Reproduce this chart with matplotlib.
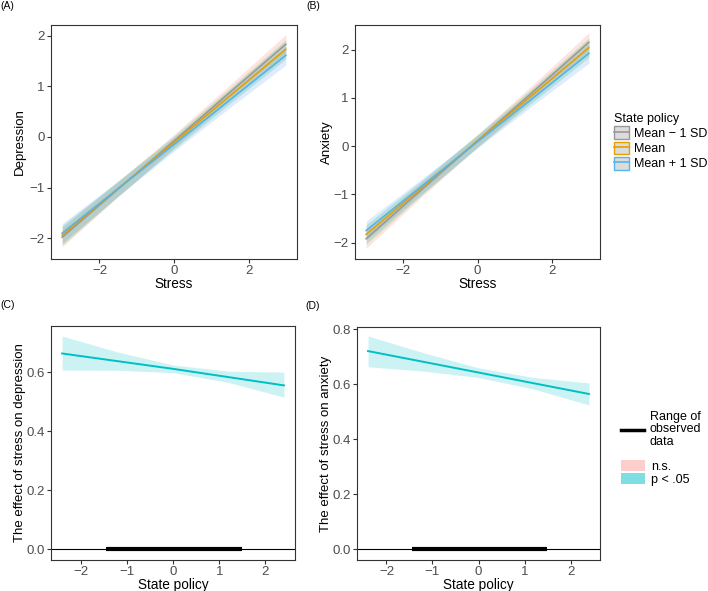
import matplotlib
matplotlib.use("Agg")
import matplotlib.pyplot as plt
from matplotlib.patches import Patch
from matplotlib.lines import Line2D

plt.rcParams['font.family'] = ['Liberation Sans', 'DejaVu Sans']

# panels A/B: predicted outcome across stress at three state-policy levels
stress = [-3.0, -1.5, 0.0, 1.5, 3.0]
policy_levels = ['Mean \u2212 1 SD', 'Mean', 'Mean + 1 SD']

dep_low = [-1.98, -1.03, -0.08, 0.88, 1.83]
dep_mid = [-1.94, -1.02, -0.11, 0.81, 1.73]
dep_high = [-1.90, -1.02, -0.15, 0.73, 1.61]
dep_ci = [0.19, 0.15, 0.13, 0.15, 0.19]

anx_low = [-1.92, -0.90, 0.11, 1.13, 2.15]
anx_mid = [-1.83, -0.86, 0.11, 1.07, 2.04]
anx_high = [-1.75, -0.83, 0.09, 1.00, 1.92]
anx_ci = [0.20, 0.15, 0.13, 0.15, 0.20]

# panels C/D: effect of stress across state policy (Johnson-Neyman)
policy = [-2.4, -1.2, 0.0, 1.2, 2.4]
dep_effect = [0.663, 0.637, 0.611, 0.583, 0.555]
dep_lower = [0.607, 0.606, 0.598, 0.565, 0.515]
dep_upper = [0.722, 0.668, 0.624, 0.603, 0.600]
anx_effect = [0.721, 0.682, 0.643, 0.604, 0.565]
anx_lower = [0.664, 0.648, 0.625, 0.583, 0.525]
anx_upper = [0.776, 0.715, 0.660, 0.625, 0.605]
observed_range = [-1.45, 1.49]

line_colors = ['#999999', '#E69F00', '#56B4E9']
ribbon_colors = ['#F8766D', '#00BA38', '#619CFF']
sig_color = '#00BFC4'
ns_color = '#F8766D'

W, H = 708, 591
fig = plt.figure(figsize=(W / 100, H / 100), dpi=100)


def add_axes_px(left, top, right, bottom):
    return fig.add_axes([left / W, 1 - bottom / H, (right - left) / W, (bottom - top) / H])


def style(ax, xlab, ylab, xlab_px, ylab_px):
    for s in ax.spines.values():
        s.set_color('#333333')
        s.set_linewidth(0.8)
    ax.tick_params(length=3, width=0.8, color='#333333', labelcolor='#4D4D4D',
                   labelsize=9.5, pad=1.5)
    ax.set_xlabel(xlab, fontsize=9.8, va='center')
    ax.set_ylabel(ylab, fontsize=9.5, va='center')
    bb = ax.get_position()
    ax.xaxis.set_label_coords(0.5, -xlab_px / (bb.height * H))
    ax.yaxis.set_label_coords(-ylab_px / (bb.width * W), 0.5)


def slopes_panel(ax, fits, ci, ylab, ylim):
    for fit, col in zip(fits, ribbon_colors):
        lo = [f - c for f, c in zip(fit, ci)]
        hi = [f + c for f, c in zip(fit, ci)]
        ax.fill_between(stress, lo, hi, color=col, alpha=0.2, lw=0)
    for fit, col in zip(fits, line_colors):
        ax.plot(stress, fit, color=col, lw=1.2)
    ax.set_xlim(-3.3, 3.3)
    ax.set_ylim(*ylim)
    ax.set_xticks([-2, 0, 2])
    ax.set_yticks([-2, -1, 0, 1, 2])
    style(ax, 'Stress', ylab, 25, ylab_off[ylab])


def jn_panel(ax, effect, lower, upper, ylab, ylim, yticks):
    sig = all(l > 0 for l in lower)
    col = sig_color if sig else ns_color
    ax.fill_between(policy, lower, upper, color=col, alpha=0.2, lw=0)
    ax.plot(policy, effect, color=col, lw=1.4)
    ax.axhline(0, color='black', lw=0.8)
    ax.plot(observed_range, [0, 0], color='black', lw=3, solid_capstyle='butt')
    ax.set_xlim(-2.64, 2.64)
    ax.set_ylim(*ylim)
    ax.set_yticks(yticks)
    ax.set_yticklabels([f'{t:.1f}' for t in yticks])
    ax.set_xticks([-2, -1, 0, 1, 2])
    style(ax, 'State policy', ylab, 25, ylab_off[ylab])


ylab_off = {'Depression': 31, 'Anxiety': 28,
            'The effect of stress on depression': 31,
            'The effect of stress on anxiety': 31}

ax_a = add_axes_px(51, 25, 297, 259)
slopes_panel(ax_a, [dep_low, dep_mid, dep_high], dep_ci, 'Depression', (-2.41, 2.21))
ax_b = add_axes_px(355, 25, 600, 259)
slopes_panel(ax_b, [anx_low, anx_mid, anx_high], anx_ci, 'Anxiety', (-2.34, 2.51))
ax_c = add_axes_px(51, 326, 295, 560)
jn_panel(ax_c, dep_effect, dep_lower, dep_upper, 'The effect of stress on depression',
         (-0.036, 0.756), [0.0, 0.2, 0.4, 0.6])
ax_d = add_axes_px(357, 327, 600, 560)
jn_panel(ax_d, anx_effect, anx_lower, anx_upper, 'The effect of stress on anxiety',
         (-0.0385, 0.8085), [0.0, 0.2, 0.4, 0.6, 0.8])

for lab, x, y in [('(A)', 0, 6), ('(B)', 306, 6), ('(C)', 0, 305), ('(D)', 305, 306)]:
    fig.text(x / W, 1 - y / H, lab, fontsize=7.5, va='center', ha='left')

# legends
handles = [(Patch(facecolor='#DCDCDC', edgecolor=c, lw=1.0), Line2D([], [], color=c, lw=1.2))
           for c in line_colors]
leg1 = fig.legend(handles, policy_levels, title='State policy', loc='upper left',
                  bbox_to_anchor=(614 / W, 1 - 113 / H), frameon=False, fontsize=9,
                  title_fontsize=9, handlelength=1.2, handleheight=1.2, labelspacing=0.12,
                  handletextpad=0.4, borderpad=0, borderaxespad=0, alignment='left')

leg2 = fig.legend([Line2D([], [], color='black', lw=2.5)], ['Range of\nobserved\ndata'],
                  loc='upper left', bbox_to_anchor=(621 / W, 1 - 411 / H), frameon=False,
                  fontsize=9, handlelength=1.8, handletextpad=0.5, borderpad=0,
                  borderaxespad=0)
for t in leg2.get_texts():
    t.set_linespacing(1.05)

leg3 = fig.legend([Patch(facecolor=ns_color, alpha=0.35, lw=0),
                   Patch(facecolor=sig_color, alpha=0.5, lw=0)], ['n.s.', 'p < .05'],
                  loc='upper left', bbox_to_anchor=(621 / W, 1 - 460 / H), frameon=False,
                  fontsize=9, handlelength=1.9, handleheight=1.0, labelspacing=0.0,
                  handletextpad=0.5, borderpad=0, borderaxespad=0)

fig.savefig('out.png', dpi=100)
